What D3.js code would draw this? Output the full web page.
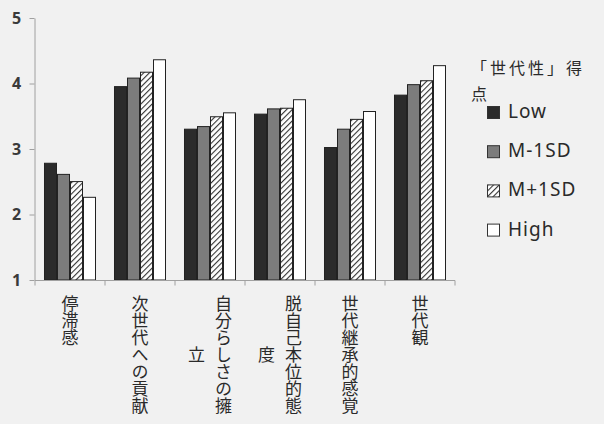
<!DOCTYPE html>
<html>
<head>
<meta charset="utf-8">
<script src="https://cdn.jsdelivr.net/npm/d3@7"></script>
<style>
    body {
        margin: 0;
        background: #f1f1f1;
    }
    svg {
        display: block;
    }
    .tick-label {
        font-family: "Noto Sans", sans-serif;
        font-size: 16px;
        font-weight: bold;
        fill: #3a3a3a;
    }
    .cat-label {
        font-family: "Noto Sans CJK JP", sans-serif;
        font-size: 17px;
        fill: #2a2a2a;
        writing-mode: vertical-rl;
    }
    .legend-title {
        font-family: "Noto Sans CJK JP", sans-serif;
        font-size: 16px;
        fill: #2a2a2a;
        letter-spacing: 3px;
    }
    .legend-text {
        font-family: "Noto Sans", sans-serif;
        font-size: 19px;
        fill: #2a2a2a;
        letter-spacing: 1px;
    }
</style>
</head>
<body>
<svg id="chart" width="604" height="424"></svg>
<script>
    // data
    const categories = ["停滞感", "次世代への貢献", "自分らしさの擁立", "脱自己本位的態度", "世代継承的感覚", "世代観"];
    // how each category label wraps into vertical columns
    const categoryLines = [
        ["停滞感"],
        ["次世代への貢献"],
        ["自分らしさの擁", "立"],
        ["脱自己本位的態", "度"],
        ["世代継承的感覚"],
        ["世代観"]
    ];
    const seriesNames = ["Low", "M-1SD", "M+1SD", "High"];
    const lowValues = [2.79, 3.96, 3.31, 3.54, 3.03, 3.83];
    const m1sdValues = [2.62, 4.09, 3.35, 3.62, 3.31, 3.99];
    const p1sdValues = [2.51, 4.18, 3.50, 3.63, 3.46, 4.05];
    const highValues = [2.27, 4.37, 3.56, 3.76, 3.58, 4.28];
    const yTicks = [1, 2, 3, 4, 5];
    const legendTitle = ["「世代性」得", "点"];

    const seriesValues = [lowValues, m1sdValues, p1sdValues, highValues];
    const fills = ["#2b2b2b", "#7c7c7c", "url(#hatch)", "#ffffff"];

    const svg = d3.select("#chart");

    const defs = svg.append("defs");
    const hatch = defs.append("pattern")
        .attr("id", "hatch")
        .attr("patternUnits", "userSpaceOnUse")
        .attr("width", 4)
        .attr("height", 4)
        .attr("patternTransform", "rotate(45)");
    hatch.append("rect").attr("width", 4).attr("height", 4).attr("fill", "#ffffff");
    hatch.append("line")
        .attr("x1", 0).attr("y1", 0).attr("x2", 0).attr("y2", 4)
        .attr("stroke", "#333").attr("stroke-width", 2.2);

    const x0 = d3.scaleBand()
        .domain(categories)
        .range([35, 455])
        .paddingInner(0.257)
        .paddingOuter(0.1285);
    const x1 = d3.scaleBand()
        .domain(seriesNames)
        .range([0, x0.bandwidth()]);
    const y = d3.scaleLinear().domain([1, 5]).range([280, 18]);

    // bars
    const groups = svg.append("g").selectAll("g")
        .data(categories)
        .join("g")
        .attr("transform", d => `translate(${x0(d)},0)`);

    groups.selectAll("rect")
        .data((c, i) => seriesNames.map((s, j) => ({ s, j, v: seriesValues[j][i] })))
        .join("rect")
        .attr("x", d => x1(d.s) + 0.5)
        .attr("y", d => y(d.v) + 0.5)
        .attr("width", x1.bandwidth() - 1)
        .attr("height", d => y(1) - y(d.v) - 0.5)
        .attr("fill", d => fills[d.j])
        .attr("stroke", "#222")
        .attr("stroke-width", 1);

    // y axis
    const yAxis = svg.append("g")
        .attr("transform", "translate(34.5,0)")
        .call(d3.axisLeft(y).tickValues(yTicks).tickFormat(d3.format("d")).tickSize(5).tickSizeOuter(0));
    yAxis.select(".domain").attr("stroke", "#a0a0a0");
    yAxis.selectAll(".tick line").attr("stroke", "#a0a0a0");
    yAxis.selectAll(".tick text")
        .attr("class", "tick-label")
        .attr("x", -18)
        .attr("text-anchor", "middle");

    // x axis line with boundary ticks
    const xAxis = svg.append("g").attr("transform", "translate(0,280.5)");
    xAxis.append("line")
        .attr("x1", x0.range()[0]).attr("x2", x0.range()[1])
        .attr("stroke", "#a0a0a0");
    const bounds = categories.map(c => x0(c) - x0.step() * x0.paddingInner() / 2)
        .concat([x0.range()[1]]);
    xAxis.selectAll(".xtick")
        .data(bounds)
        .join("line")
        .attr("x1", d => d).attr("x2", d => d)
        .attr("y1", 0).attr("y2", 5)
        .attr("stroke", "#a0a0a0");

    // vertical category labels
    const pitch = 17;
    const labelTop = 295;
    const colGap = 27;
    categoryLines.forEach((lines, i) => {
        const cx = x0(categories[i]) + x0.bandwidth() / 2;
        const maxLen = d3.max(lines, l => l.length);
        const cy = labelTop + maxLen * pitch / 2;
        lines.forEach((line, k) => {
            const offset = (lines.length - 1) / 2 * colGap - k * colGap;
            svg.append("text")
                .attr("class", "cat-label")
                .attr("x", cx + offset)
                .attr("y", cy)
                .attr("text-anchor", "middle")
                .text(line);
        });
    });

    // legend
    const legend = svg.append("g");
    legend.selectAll(".legend-title")
        .data(legendTitle)
        .join("text")
        .attr("class", "legend-title")
        .attr("x", 471)
        .attr("y", (d, i) => 74 + i * 26)
        .text(d => d);

    const items = legend.selectAll(".item")
        .data(seriesNames)
        .join("g")
        .attr("transform", (d, i) => `translate(487,${118 + i * 39.2})`);
    items.append("rect")
        .attr("x", 0.5)
        .attr("y", -11.5)
        .attr("width", 12)
        .attr("height", 12)
        .attr("fill", (d, i) => fills[i])
        .attr("stroke", "#333");
    items.append("text")
        .attr("class", "legend-text")
        .attr("x", 21)
        .attr("y", 0)
        .text(d => d);
</script>
</body>
</html>
